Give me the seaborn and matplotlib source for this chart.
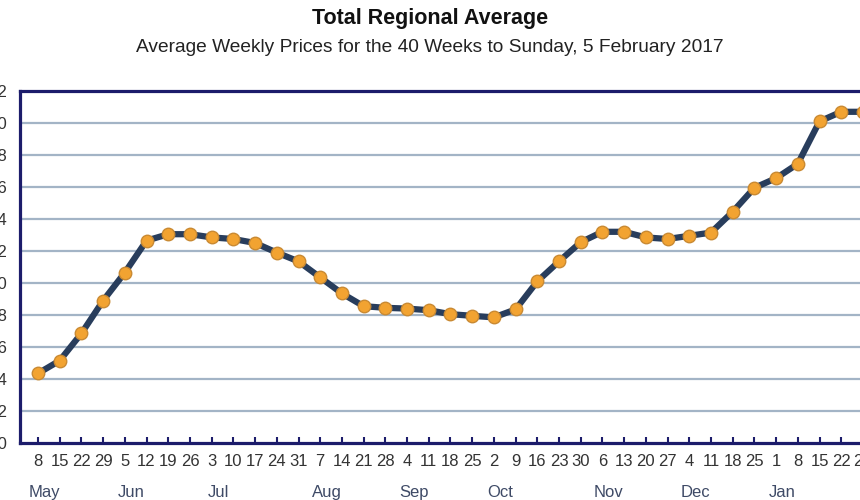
import numpy as np
import pandas as pd
import matplotlib
matplotlib.use("Agg")
import matplotlib.pyplot as plt
import matplotlib.transforms as mtransforms
import seaborn as sns

# semanas (día del mes) para las 40 semanas hasta el 5 de febrero de 2017
week_days = ["8", "15", "22", "29", "5", "12", "19", "26", "3", "10", "17", "24", "31",
             "7", "14", "21", "28", "4", "11", "18", "25", "2", "9", "16", "23", "30",
             "6", "13", "20", "27", "4", "11", "18", "25", "1", "8", "15", "22", "29", "5"]
month_names = ["May", "Jun", "Jul", "Aug", "Sep", "Oct", "Nov", "Dec", "Jan", "Feb"]
month_start = [0, 4, 8, 13, 17, 21, 26, 30, 34, 39]
prices = [124.35, 125.15, 126.85, 128.9, 130.65, 132.65, 133.05, 133.05, 132.85, 132.75,
          132.5, 131.9, 131.35, 130.35, 129.35, 128.55, 128.45, 128.4, 128.3, 128.05,
          127.95, 127.85, 128.35, 130.1, 131.35, 132.55, 133.2, 133.2, 132.85, 132.75,
          132.95, 133.15, 134.45, 135.95, 136.55, 137.45, 140.1, 140.7, 140.7, 140.6]
y_ticks = list(range(120, 143, 2))

df = pd.DataFrame({"week": np.arange(len(prices)), "price": prices})

sns.set_theme(style="white")
plt.rcParams["font.family"] = ["Liberation Sans", "DejaVu Sans"]

fig = plt.figure(figsize=(8.6, 5), dpi=100)
ax = fig.add_axes([20 / 860, 57 / 500, 882 / 860, 352 / 500])

# rejilla horizontal
for y in y_ticks[1:-1]:
    ax.axhline(y, color="#a3b4c6", linewidth=1.6, zorder=0)

sns.lineplot(data=df, x="week", y="price", ax=ax, color="#283d5c", linewidth=4.5,
             marker="o", markersize=9, markerfacecolor="#f2a331",
             markeredgecolor="#c98a33", markeredgewidth=1.0, zorder=3)

ax.set_xlim(-0.83, 39.8)
ax.set_ylim(120, 142)
ax.set_yticks(y_ticks)
ax.set_yticklabels([str(v) for v in y_ticks])
ax.set_xticks(df["week"])
ax.set_xticklabels(week_days)
ax.set_xlabel("")
ax.set_ylabel("")

for side in ["top", "bottom", "left", "right"]:
    ax.spines[side].set_color("#1c1c6b")
    ax.spines[side].set_linewidth(2.3)

ax.tick_params(axis="x", direction="in", length=4, width=1.5, color="#1c1c6b",
               pad=8, labelsize=12, labelcolor="#333333", bottom=True)
ax.tick_params(axis="y", length=0, pad=9, labelsize=12, labelcolor="#333333")

# etiquetas de mes debajo de los días
trans = mtransforms.blended_transform_factory(ax.transData, ax.transAxes)
for name, pos in zip(month_names, month_start):
    ax.text(pos + 0.3, -0.14, name, transform=trans, ha="center", va="center",
            fontsize=12, color="#3e4a66")

fig.text(0.5, 0.963, "Total Regional Average", ha="center", va="center",
         fontsize=15.5, fontweight="bold", color="#111111")
fig.text(0.5, 0.905, "Average Weekly Prices for the 40 Weeks to Sunday, 5 February 2017",
         ha="center", va="center", fontsize=13.8, color="#222222")

fig.savefig("out.png", dpi=100)
